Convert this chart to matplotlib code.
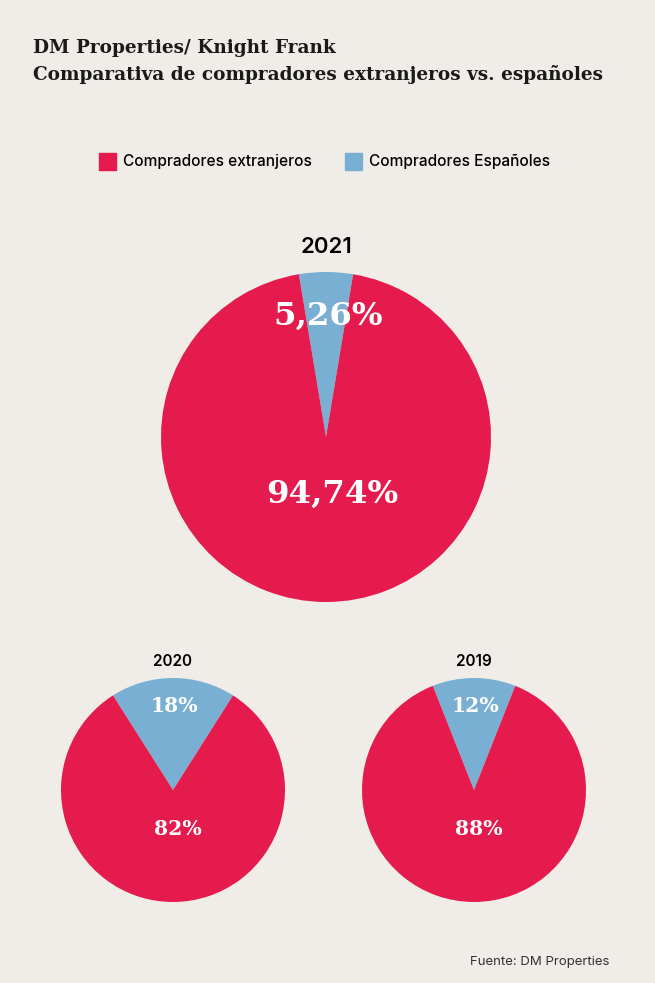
import numpy as np
from matplotlib import pyplot as plt

# data
years = ["2021", "2020", "2019"]
espanoles = [5.26, 18, 12]
extranjeros = [94.74, 82, 88]
labels_esp = ["5,26%", "18%", "12%"]
labels_ext = ["94,74%", "82%", "88%"]
series_names = ["Compradores extranjeros", "Compradores Españoles"]

BG = "#f0ece7"
RED = "#e51b4e"
BLUE = "#7aafd4"
SERIF = ["DejaVu Serif"]
SANS = ["Inter", "DejaVu Sans"]

fig = plt.figure(figsize=(6.55, 9.83), dpi=100, facecolor=BG)
W, H = 655, 983


def add_pie(cx, cy, r, i, big):
    ax = fig.add_axes([(cx - r) / W, (H - cy - r) / H, 2 * r / W, 2 * r / H])
    ax.set_facecolor(BG)
    start = 90 - espanoles[i] * 3.6 / 2
    ax.pie([espanoles[i], extranjeros[i]], colors=[BLUE, RED], startangle=start,
           radius=1, wedgeprops=dict(linewidth=0))
    ax.set_xlim(-1, 1)
    ax.set_ylim(-1, 1)
    ax.set_aspect("equal")
    ax.axis("off")
    fs = 23.3 if big else 14.7
    ax.text(0.01, 0.73 if big else 0.75, labels_esp[i], ha="center", va="center",
            color="white", fontsize=fs, fontweight="bold", family=SERIF)
    ax.text(0.04, -0.35, labels_ext[i], ha="center", va="center",
            color="white", fontsize=fs, fontweight="bold", family=SERIF)
    ax.text(0, 1.09 if big else 1.08, years[i], ha="center", va="bottom",
            color="black", fontsize=16 if big else 11, fontweight="semibold",
            family=SANS)


add_pie(326, 437, 165, 0, True)
add_pie(173, 790, 112, 1, False)
add_pie(474, 790, 112, 2, False)

# title
fig.text(33 / W, 1 - 48 / H, "DM Properties/ Knight Frank", fontsize=13.35,
         fontweight="bold", family=SERIF, va="center", color="#1a1a1a")
fig.text(33 / W, 1 - 75 / H, "Comparativa de compradores extranjeros vs. españoles",
         fontsize=13.35, fontweight="bold", family=SERIF, va="center", color="#1a1a1a")

# legend
for x_sq, x_txt, color, name in [(99, 123, RED, series_names[0]),
                                 (345, 369, BLUE, series_names[1])]:
    fig.patches.append(plt.Rectangle((x_sq / W, 1 - 170 / H), 17 / W, 17 / H,
                                     transform=fig.transFigure, color=color))
    fig.text(x_txt / W, 1 - 161 / H, name, fontsize=11.1, family=SANS,
             fontweight="medium", va="center", color="black")

fig.text(609 / W, 1 - 962 / H, "Fuente: DM Properties", fontsize=9.5, family=SANS,
         ha="right", va="center", color="#333333")

fig.savefig("out.png", dpi=100, facecolor=BG)
